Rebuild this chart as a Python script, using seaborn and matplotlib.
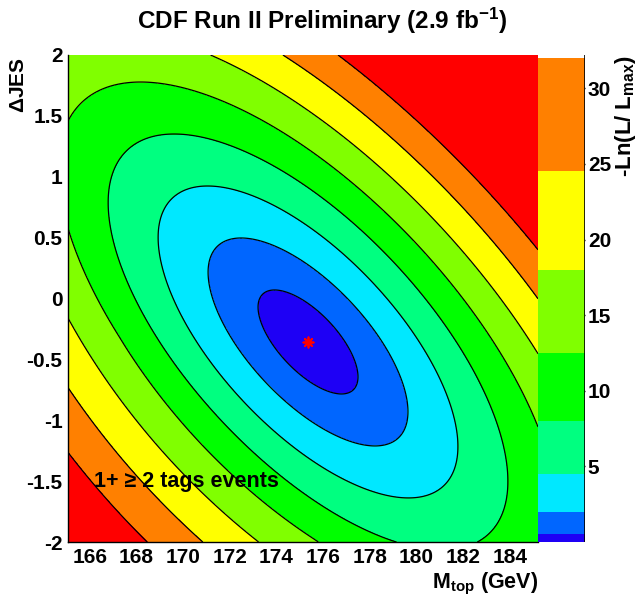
import numpy as np
import matplotlib
matplotlib.use("Agg")
import matplotlib.pyplot as plt
from matplotlib.colors import ListedColormap, BoundaryNorm
from matplotlib.cm import ScalarMappable
from matplotlib.ticker import MultipleLocator
import seaborn as sns

# Fit result of the 2D likelihood in (M_top, JES)
MTOP_FIT = 175.35        # GeV
JES_FIT = -0.357         # sigma_c units
SIGMA_MTOP = 2.14        # GeV
SIGMA_JES = 0.427
RHO = -0.67              # M_top / JES correlation
# far tail toward low M_top and low JES rises more slowly than a parabola
TAIL_START = 2.6
TAIL_SOFTEN = 0.065

# -ln(L/Lmax) contour levels (n^2/2, n = 1..8) and their fill colours
levels = [0.0, 0.5, 2.0, 4.5, 8.0, 12.5, 18.0, 24.5, 32.0]
band_colors = ["#1e00f5", "#0066ff", "#00e8ff", "#00ff80", "#00ff00",
               "#80ff00", "#ffff00", "#ff8000"]
overflow_color = "#ff0000"

mtop_range = [165.07, 185.2]
jes_range = [-2.0, 2.0]
cbar_ticks = [5, 10, 15, 20, 25, 30]

sns.set_style("white")
plt.rcParams["font.family"] = ["Liberation Sans", "DejaVu Sans"]
plt.rcParams["font.weight"] = "bold"
plt.rcParams["text.color"] = "black"
plt.rcParams["mathtext.fontset"] = "custom"
plt.rcParams["mathtext.rm"] = "Liberation Sans:bold"
plt.rcParams["mathtext.it"] = "Liberation Sans:bold"
plt.rcParams["mathtext.bf"] = "Liberation Sans:bold"

# Likelihood surface on a grid
m = np.linspace(*mtop_range, 500)
j = np.linspace(*jes_range, 500)
M, J = np.meshgrid(m, j)
u = (M - MTOP_FIT) / SIGMA_MTOP
v = (J - JES_FIT) / SIGMA_JES
s = (u + v) / np.sqrt(2)          # steep (minor) axis
t = (u - v) / np.sqrt(2)          # shallow (major) axis
soft = 1.0 - TAIL_SOFTEN * np.clip(-s - TAIL_START, 0, None)
nll = s**2 * soft / (2 * (1 + RHO)) + t**2 / (2 * (1 - RHO))

W, H = 641, 598
fig = plt.figure(figsize=(W / 100, H / 100), dpi=100)
ax = fig.add_axes([68 / W, 1 - 542 / H, 470 / W, 487 / H])
cax = fig.add_axes([538 / W, 1 - 542 / H, 47 / W, 487 / H])

fill_levels = levels + [max(nll.max(), levels[-1]) + 1.0]
ax.contourf(M, J, nll, levels=fill_levels,
            colors=band_colors + [overflow_color], antialiased=False)
ax.contour(M, J, nll, levels=levels[1:], colors="black", linewidths=0.9)

# Best-fit point
sns.scatterplot(x=[MTOP_FIT], y=[JES_FIT], ax=ax, marker=(8, 2, 0),
                s=55, color="red", linewidth=1.3, legend=False, zorder=5)

ax.set_xlim(*mtop_range)
ax.set_ylim(*jes_range)
ax.xaxis.set_minor_locator(MultipleLocator(0.5))
ax.yaxis.set_minor_locator(MultipleLocator(0.1))
ax.tick_params(axis="both", which="both", direction="in", colors="black",
               labelsize=15, width=1.0)
ax.tick_params(axis="both", which="major", length=14.5)
ax.tick_params(axis="both", which="minor", length=7)
ax.tick_params(axis="x", which="both", pad=4)
ax.tick_params(axis="y", which="both", pad=4)
ax.set_xticks(np.arange(166, 185, 2))
ax.set_yticks(np.arange(-2, 2.01, 0.5))
ax.set_yticklabels([f"{y:g}" for y in np.arange(-2, 2.01, 0.5)])
for side in ("top", "right"):
    ax.spines[side].set_visible(False)
for side in ("left", "bottom"):
    ax.spines[side].set_color("black")
    ax.spines[side].set_linewidth(1.0)

ax.text(166.2, -1.5, "1+ \u2265 2 tags events", fontsize=15.5,
        fontweight="bold", ha="left", va="center", color="black")

# Colour scale
cmap = ListedColormap(band_colors)
norm = BoundaryNorm(levels, cmap.N)
cb = fig.colorbar(ScalarMappable(norm=norm, cmap=cmap), cax=cax,
                  boundaries=levels, spacing="proportional")
cb.outline.set_visible(False)
cax.set_ylim(0, 32.2)
cb.set_ticks(cbar_ticks)
cb.set_ticklabels([str(c) for c in cbar_ticks])
cax.tick_params(axis="y", which="major", direction="in", length=13,
                width=1.0, labelsize=15, pad=2, colors="black")
cax.tick_params(axis="y", which="minor", length=0)
cax.axvline(1.0, color="black", linewidth=1.2)

fig.text(0.503, 1 - 21 / H, r"CDF Run II Preliminary (2.9 fb$^{-1}$)",
         fontsize=17.5, fontweight="bold", ha="center", va="center")
fig.text(538 / W, 1 - 588 / H, r"M$_{\mathrm{top}}$ (GeV)", fontsize=15.5,
         fontweight="bold", ha="right", va="baseline")
fig.text(18 / W, 1 - 57 / H, r"$\Delta$JES", fontsize=15, fontweight="bold",
         rotation=90, ha="center", va="top")
fig.text(626 / W, 1 - 55 / H, r"-Ln(L/ L$_{\mathrm{max}}$)", fontsize=16,
         fontweight="bold", rotation=90, ha="center", va="top")

fig.savefig("out.png", dpi=100)
